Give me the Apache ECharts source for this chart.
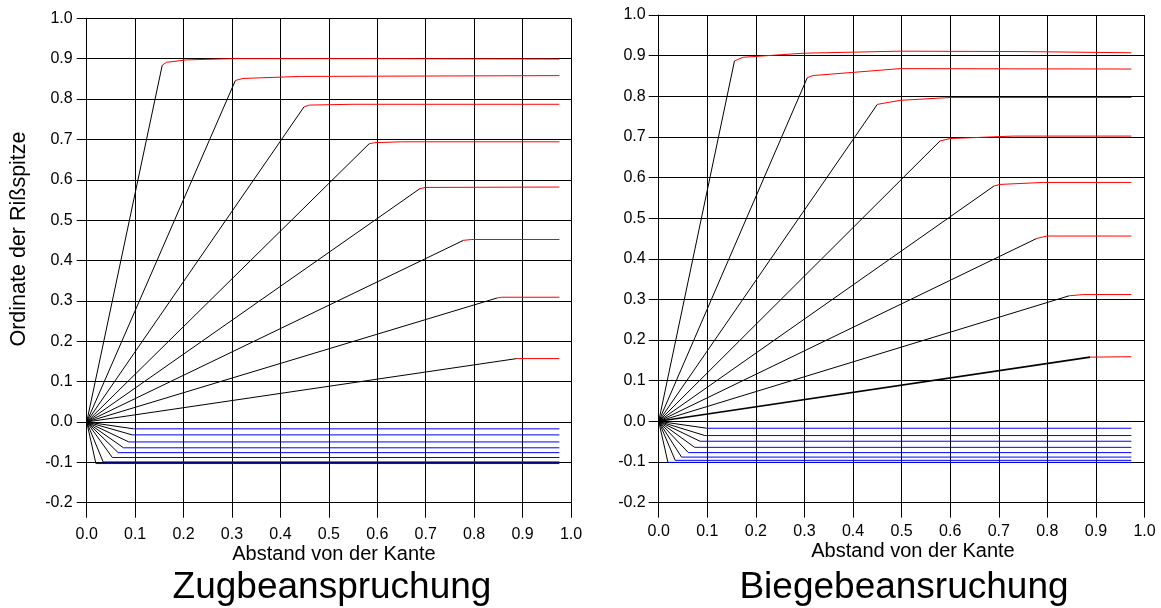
<!DOCTYPE html>
<html>
<head>
<meta charset="utf-8">
<script src="https://cdn.jsdelivr.net/npm/echarts@6/dist/echarts.min.js"></script>
<style>
html,body{margin:0;padding:0;background:#fff;}
#c{width:1161px;height:608px;}
</style>
</head>
<body>
<div id="c"></div>
<script>
// ---------- DATA ----------
const panelTitles = ['Zugbeanspruchung', 'Biegebeansruchung'];
const xAxisName = 'Abstand von der Kante';
const yAxisName = 'Ordinate der Rißspitze';

// Zugbeanspruchung (left): red crack paths, first point is the kink reached by the black ray from the origin
const zugRed = [
  [[0.156,0.884],[0.165,0.891],[0.206,0.897],[0.303,0.900],[0.600,0.900],[0.976,0.899]],
  [[0.307,0.846],[0.323,0.851],[0.440,0.856],[0.976,0.858]],
  [[0.449,0.781],[0.460,0.785],[0.550,0.787],[0.976,0.787]],
  [[0.583,0.689],[0.595,0.692],[0.650,0.694],[0.976,0.694]],
  [[0.688,0.578],[0.700,0.581],[0.976,0.582]],
  [[0.778,0.450],[0.795,0.452],[0.976,0.452]],
  [[0.847,0.307],[0.857,0.309],[0.976,0.309]],
  [[0.888,0.157],[0.976,0.157]]
];
const zugBlueLevels = [-0.017,-0.032,-0.0495,-0.064,-0.076,-0.088,-0.099,-0.103];
const zugBlueStarts = [0.097,0.094,0.087,0.076,0.065,0.053,0.034,0.019];
const zugBlueEnd = 0.976;

// Biegebeansruchung (right)
const biegeRed = [
  [[0.156,0.887],[0.174,0.896],[0.299,0.906],[0.497,0.911],[0.750,0.910],[0.973,0.907]],
  [[0.306,0.846],[0.318,0.851],[0.497,0.868],[0.973,0.867]],
  [[0.450,0.780],[0.497,0.790],[0.600,0.797],[0.973,0.797]],
  [[0.579,0.690],[0.600,0.696],[0.730,0.702],[0.973,0.702]],
  [[0.690,0.579],[0.702,0.583],[0.792,0.588],[0.973,0.588]],
  [[0.778,0.450],[0.799,0.456],[0.973,0.456]],
  [[0.845,0.309],[0.874,0.312],[0.973,0.312]],
  [[0.888,0.158],[0.973,0.159]]
];
const biegeBlueLevels = [-0.017,-0.035,-0.049,-0.064,-0.077,-0.088,-0.096,-0.101];
const biegeBlueStarts = [0.099,0.095,0.085,0.074,0.061,0.047,0.034,0.019];
const biegeBlueEnd = 0.973;

// ---------- CHART ----------
const FONT = '"Liberation Sans", Arial, sans-serif';
const chart = echarts.init(document.getElementById('c'), null, {renderer:'canvas'});

function fmt(v){ return Math.abs(v) < 1e-9 ? '0.0' : v.toFixed(1); }

function xAx(gi, margin){
  return {
    gridIndex: gi, type:'value', min:0, max:1, interval:0.1,
    axisLine:{show:true, onZero:false, lineStyle:{color:'#000', width:1}},
    axisTick:{show:true, inside:false, length:15, lineStyle:{color:'#000', width:1}},
    axisLabel:{show:true, margin:margin, fontSize:16, fontFamily:FONT, color:'#000', formatter:fmt},
    splitLine:{show:true, lineStyle:{color:'#000', width:1}}
  };
}
function yAx(gi, margin){
  return {
    gridIndex: gi, type:'value', min:-0.2, max:1, interval:0.1,
    axisLine:{show:true, onZero:false, lineStyle:{color:'#000', width:1}},
    axisTick:{show:true, inside:false, length:10, lineStyle:{color:'#000', width:1}},
    axisLabel:{show:true, margin:margin, fontSize:16, fontFamily:FONT, color:'#000', formatter:fmt},
    splitLine:{show:true, lineStyle:{color:'#000', width:1}}
  };
}

function line(gi, data, color, width){
  return {
    type:'line', xAxisIndex:gi, yAxisIndex:gi, data:data,
    showSymbol:false, symbol:'none', silent:true, animation:false,
    lineStyle:{color:color, width:width}, z:3
  };
}

function panelSeries(gi, red, levels, starts, end){
  const s = [];
  red.forEach((pts, i) => {
    s.push(line(gi, [[0,0], pts[0]], '#000', (gi===1 && i===red.length-1) ? 1.6 : 1));
    s.push(line(gi, pts, '#ff0000', 1));
  });
  levels.forEach((lv, i) => {
    s.push(line(gi, [[0,0],[starts[i], lv]], '#000', 1));
    s.push(line(gi, [[starts[i], lv],[end, lv]], '#0000ff', 1));
  });
  return s;
}

const option = {
  backgroundColor:'#fff',
  animation:false,
  grid:[
    {left:86.7, top:18.3, width:484.3, height:484.4, containLabel:false},
    {left:658.7, top:15, width:485.8, height:487.6, containLabel:false}
  ],
  xAxis:[xAx(0, 24), xAx(1, 21)],
  yAxis:[yAx(0, 14), yAx(1, 13)],
  series: [].concat(
    panelSeries(0, zugRed, zugBlueLevels, zugBlueStarts, zugBlueEnd),
    panelSeries(1, biegeRed, biegeBlueLevels, biegeBlueStarts, biegeBlueEnd)
  ),
  graphic:[
    {type:'text', x:19, y:239, rotation:Math.PI/2, style:{text:yAxisName, font:'21.5px '+FONT, fill:'#000', align:'center', verticalAlign:'middle'}},
    {type:'text', x:334, y:554, style:{text:xAxisName, font:'20px '+FONT, fill:'#000', align:'center', verticalAlign:'middle'}},
    {type:'text', x:913, y:551, style:{text:xAxisName, font:'20px '+FONT, fill:'#000', align:'center', verticalAlign:'middle'}},
    {type:'text', x:332, y:588, style:{text:panelTitles[0], font:'37px '+FONT, fill:'#000', align:'center', verticalAlign:'middle'}},
    {type:'text', x:904, y:588, style:{text:panelTitles[1], font:'37px '+FONT, fill:'#000', align:'center', verticalAlign:'middle'}}
  ]
};
chart.setOption(option);
</script>
</body>
</html>
